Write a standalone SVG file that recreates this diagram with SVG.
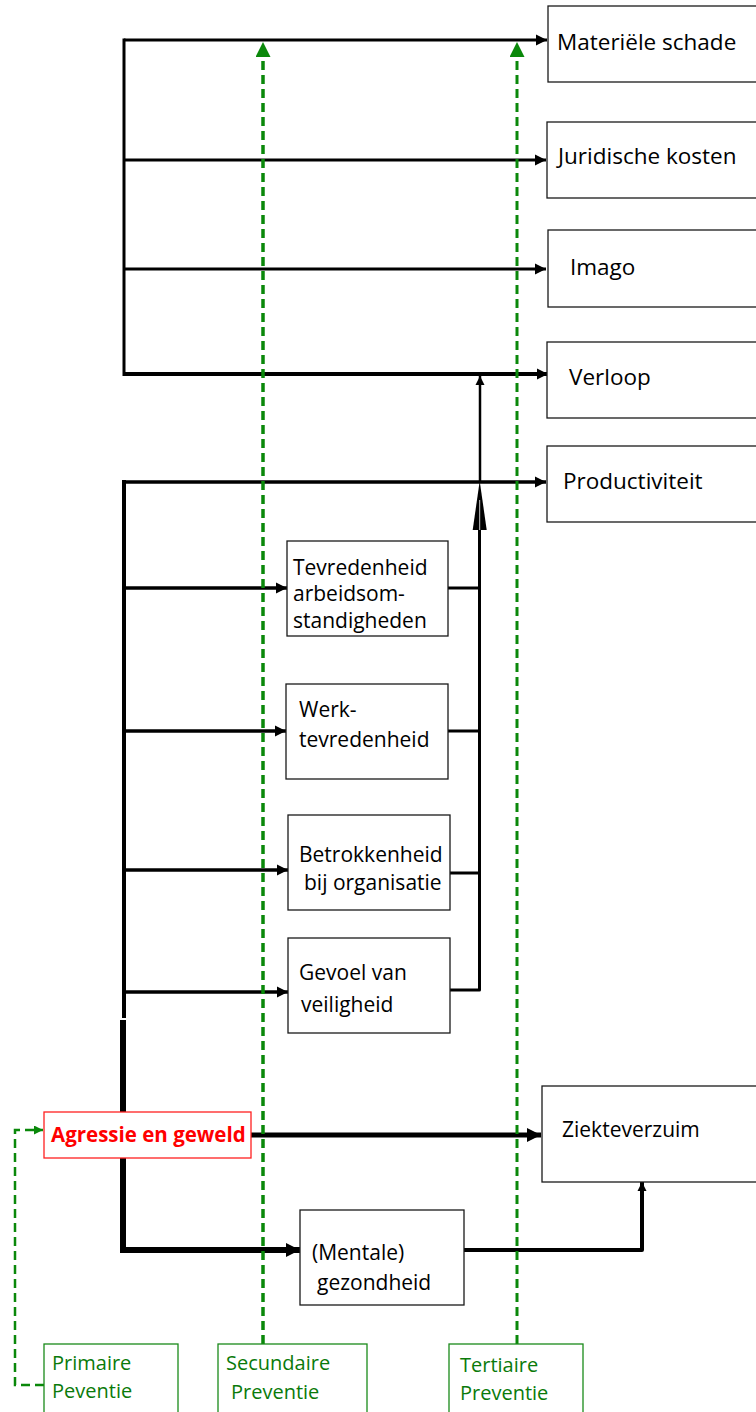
<svg xmlns="http://www.w3.org/2000/svg" width="756" height="1412" viewBox="0 0 756 1412">
<style>
  .box { fill: #ffffff; stroke: #1a1a1a; stroke-width: 1.3; }
  .gbox { fill: #ffffff; stroke: #1a8a1a; stroke-width: 1.3; }
  .rbox { fill: #ffffff; stroke: #ff2020; stroke-width: 1.3; }
  .t { font-family: "Open Sans", "Liberation Sans", sans-serif; font-size: 22.5px; fill: #000; }
  .tb { font-family: "Open Sans", "Liberation Sans", sans-serif; font-size: 21px; fill: #000; }
  .tg { font-family: "Open Sans", "Liberation Sans", sans-serif; font-size: 20px; fill: #0a7a0a; }
  .tr { font-family: "Open Sans", "Liberation Sans", sans-serif; font-size: 20.5px; font-weight: bold; fill: #ff0000; }
  .k { fill: none; stroke: #000; stroke-linecap: butt; }
  .g { fill: none; stroke: #0a880a; stroke-dasharray: 9 5; }
</style>
<defs>
  <marker id="ah" viewBox="0 0 10 10" refX="10" refY="5" markerWidth="11" markerHeight="12" markerUnits="userSpaceOnUse" orient="auto">
    <path d="M0,0 L10,5 L0,10 z" fill="#000"/>
  </marker>
  <marker id="ahb" viewBox="0 0 10 10" refX="10" refY="5" markerWidth="14" markerHeight="17" markerUnits="userSpaceOnUse" orient="auto">
    <path d="M0,0 L10,5 L0,10 z" fill="#000"/>
  </marker>
  <marker id="ahs" viewBox="0 0 10 10" refX="10" refY="5" markerWidth="9" markerHeight="10" markerUnits="userSpaceOnUse" orient="auto">
    <path d="M0,0 L10,5 L0,10 z" fill="#000"/>
  </marker>
  <marker id="gh" viewBox="0 0 10 10" refX="10" refY="5" markerWidth="18" markerHeight="15" markerUnits="userSpaceOnUse" orient="auto">
    <path d="M0,0 L10,5 L0,10 z" fill="#0a880a"/>
  </marker>
  <marker id="ghs" viewBox="0 0 10 10" refX="10" refY="5" markerWidth="9" markerHeight="9" markerUnits="userSpaceOnUse" orient="auto">
    <path d="M0,0 L10,5 L0,10 z" fill="#0a880a"/>
  </marker>
</defs>

<g id="connectors">
  <!-- trunk -->
  <line class="k" x1="124" y1="38.5" x2="124" y2="376" stroke-width="3"/>
  <line class="k" x1="124" y1="480" x2="124" y2="1018" stroke-width="4"/>
  <path class="k" d="M123,1020 V1250 H300" stroke-width="6" marker-end="url(#ahb)"/>
  <!-- outcome arrows -->
  <line class="k" x1="124" y1="40" x2="547" y2="40" stroke-width="3" marker-end="url(#ah)"/>
  <line class="k" x1="124" y1="160" x2="546" y2="160" stroke-width="3" marker-end="url(#ah)"/>
  <line class="k" x1="124" y1="269" x2="546" y2="269" stroke-width="3" marker-end="url(#ah)"/>
  <line class="k" x1="124" y1="374" x2="548" y2="374" stroke-width="4" marker-end="url(#ah)"/>
  <line class="k" x1="124" y1="482" x2="546" y2="482" stroke-width="3.5" marker-end="url(#ah)"/>
  <line class="k" x1="124" y1="588" x2="287" y2="588" stroke-width="3.5" marker-end="url(#ah)"/>
  <line class="k" x1="124" y1="731" x2="286" y2="731" stroke-width="3.5" marker-end="url(#ah)"/>
  <line class="k" x1="124" y1="870" x2="288" y2="870" stroke-width="3.5" marker-end="url(#ah)"/>
  <line class="k" x1="124" y1="992" x2="288" y2="992" stroke-width="3.5" marker-end="url(#ah)"/>
  <line class="k" x1="251" y1="1135" x2="541" y2="1135" stroke-width="5" marker-end="url(#ahb)"/>
  <path class="k" d="M464,1250 H642 V1182" stroke-width="4" stroke-linejoin="round" marker-end="url(#ahs)"/>
  <!-- side collector -->
  <line class="k" x1="448" y1="588" x2="478" y2="588" stroke-width="3"/>
  <line class="k" x1="448" y1="731" x2="478" y2="731" stroke-width="3"/>
  <line class="k" x1="450" y1="873" x2="478" y2="873" stroke-width="3"/>
  <path class="k" d="M450,990 H479.5 V528" stroke-width="3" stroke-linejoin="round"/>
  <polygon points="472.7,530 486.7,530 479.7,481" fill="#000"/>
  <line x1="479.7" y1="500" x2="479.7" y2="530" stroke="#fff" stroke-width="0.8"/>
  <line class="k" x1="480" y1="482" x2="480" y2="376" stroke-width="2.5" marker-end="url(#ahs)"/>
  <!-- prevention -->
  <line class="g" x1="263" y1="1344" x2="263" y2="42" stroke-width="3.5" marker-end="url(#gh)"/>
  <line class="g" x1="517" y1="1344" x2="517" y2="42" stroke-width="3" marker-end="url(#gh)"/>
  <path class="g" d="M44,1385 H15 V1130 H43" stroke-width="2.5" stroke-dasharray="6 4" marker-end="url(#ghs)"/>
</g>

<g id="materiele-schade"><rect class="box" x="548" y="6" width="212" height="76"/><text class="t" x="557" y="50">Materiële schade</text></g>
<g id="juridische-kosten"><rect class="box" x="547" y="122" width="213" height="76"/><text class="t" x="558" y="164">Juridische kosten</text></g>
<g id="imago"><rect class="box" x="548" y="230" width="212" height="77"/><text class="t" x="570" y="275">Imago</text></g>
<g id="verloop"><rect class="box" x="547" y="342" width="213" height="76"/><text class="t" x="569" y="385">Verloop</text></g>
<g id="productiviteit"><rect class="box" x="547" y="446" width="213" height="76"/><text class="t" x="563" y="489">Productiviteit</text></g>

<g id="tevredenheid"><rect class="box" x="287" y="541" width="161" height="95"/>
  <text class="tb" x="293" y="575">Tevredenheid</text><text class="tb" x="293" y="601">arbeidsom-</text><text class="tb" x="293" y="628">standigheden</text></g>
<g id="werktevredenheid"><rect class="box" x="286" y="684" width="162" height="95"/>
  <text class="tb" x="299" y="717">Werk-</text><text class="tb" x="299" y="747">tevredenheid</text></g>
<g id="betrokkenheid"><rect class="box" x="288" y="815" width="162" height="95"/>
  <text class="tb" x="299" y="862">Betrokkenheid</text><text class="tb" x="304" y="890">bij organisatie</text></g>
<g id="veiligheid"><rect class="box" x="288" y="938" width="162" height="95"/>
  <text class="tb" x="299" y="980">Gevoel van</text><text class="tb" x="301" y="1012">veiligheid</text></g>

<g id="agressie"><rect class="rbox" x="44" y="1112" width="207" height="46"/><text class="tr" x="51" y="1142">Agressie en geweld</text></g>
<g id="ziekteverzuim"><rect class="box" x="542" y="1086" width="218" height="96"/><text class="tb" x="562" y="1137">Ziekteverzuim</text></g>
<g id="gezondheid"><rect class="box" x="300" y="1210" width="164" height="95"/>
  <text class="tb" x="312" y="1260">(Mentale)</text><text class="tb" x="317" y="1290">gezondheid</text></g>

<g id="primaire"><rect class="gbox" x="44" y="1344" width="134" height="72"/>
  <text class="tg" x="52" y="1370">Primaire</text><text class="tg" x="52" y="1398">Peventie</text></g>
<g id="secundaire"><rect class="gbox" x="218" y="1344" width="149" height="72"/>
  <text class="tg" x="226" y="1370">Secundaire</text><text class="tg" x="231" y="1399">Preventie</text></g>
<g id="tertiaire"><rect class="gbox" x="449" y="1344" width="134" height="72"/>
  <text class="tg" x="460" y="1372">Tertiaire</text><text class="tg" x="460" y="1400">Preventie</text></g>
</svg>
